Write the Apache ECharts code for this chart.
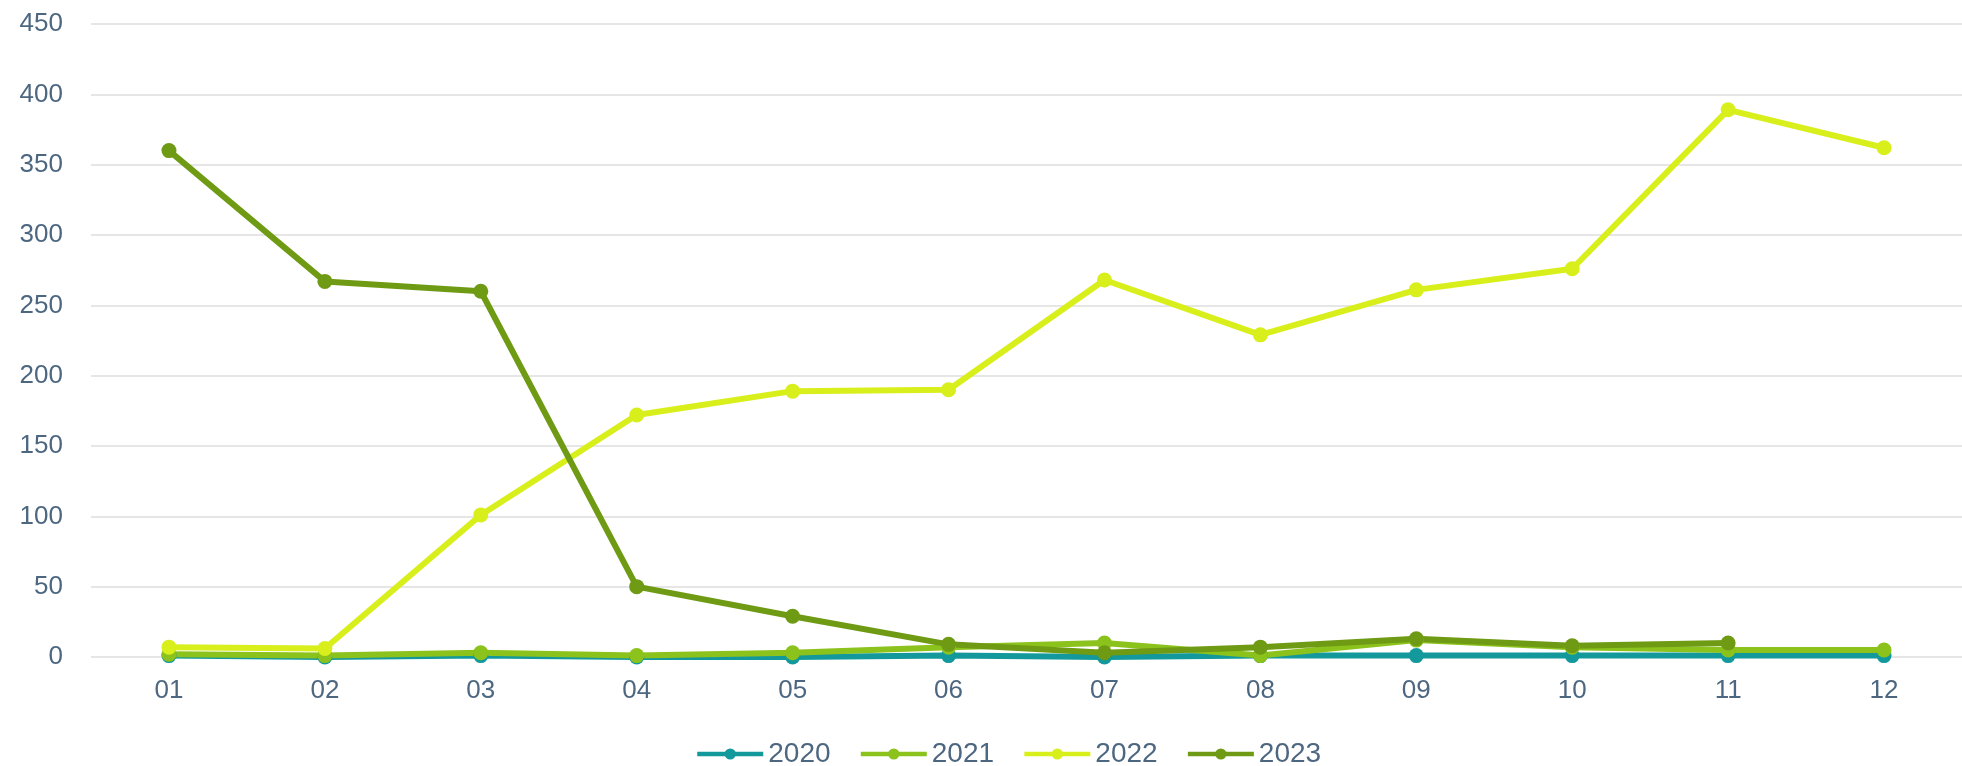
<!DOCTYPE html>
<html>
<head>
<meta charset="utf-8">
<script src="https://cdn.jsdelivr.net/npm/echarts@6/dist/echarts.min.js"></script>
<style>
html,body{margin:0;padding:0;background:#fff;}
#chart{width:1962px;height:766px;}
</style>
</head>
<body>
<div id="chart"></div>
<script>
const months = ['01','02','03','04','05','06','07','08','09','10','11','12'];
const seriesNames = ['2020','2021','2022','2023'];
const data2020 = [1,0,1,0,0,1,0,1,1,1,1,1];
const data2021 = [2,1,3,1,3,7,10,1,12,7,5,5];
const data2022 = [7,6,101,172,189,190,268,229,261,276,389,362];
const data2023 = [360,267,260,50,29,9,3,7,13,8,10,null];
const colors = ['#13999b','#8cc21c','#d8ef1c','#6f9a14'];

const chart = echarts.init(document.getElementById('chart'));
const allData = [data2020, data2021, data2022, data2023];
const textColor = '#4d6781';
const fontFam = 'Liberation Sans, Arial, sans-serif';
chart.setOption({
  animation: false,
  backgroundColor: '#ffffff',
  grid: { left: 91, top: 24, height: 633, width: 1874, containLabel: false },
  legend: {
    data: seriesNames,
    left: 690,
    top: 735,
    itemWidth: 66,
    itemHeight: 14,
    itemGap: 28,
    lineStyle: { width: 4.5 },
    textStyle: { color: textColor, fontSize: 28, fontFamily: fontFam }
  },
  xAxis: {
    type: 'category',
    data: months,
    boundaryGap: true,
    axisLine: { show: false },
    axisTick: { show: false },
    axisLabel: { color: textColor, fontSize: 26, margin: 21, fontFamily: fontFam }
  },
  yAxis: {
    type: 'value',
    min: 0, max: 450, interval: 50,
    axisLine: { show: false },
    axisTick: { show: false },
    splitLine: { lineStyle: { color: '#e6e6e6', width: 2 } },
    axisLabel: { color: textColor, fontSize: 26, margin: 28, fontFamily: fontFam }
  },
  series: seriesNames.map((name, i) => ({
    name: name,
    type: 'line',
    data: allData[i],
    color: colors[i],
    symbol: 'circle',
    symbolSize: 15,
    showAllSymbol: true,
    lineStyle: { width: 6, color: colors[i] },
    itemStyle: { color: colors[i] }
  }))
});
</script>
</body>
</html>
